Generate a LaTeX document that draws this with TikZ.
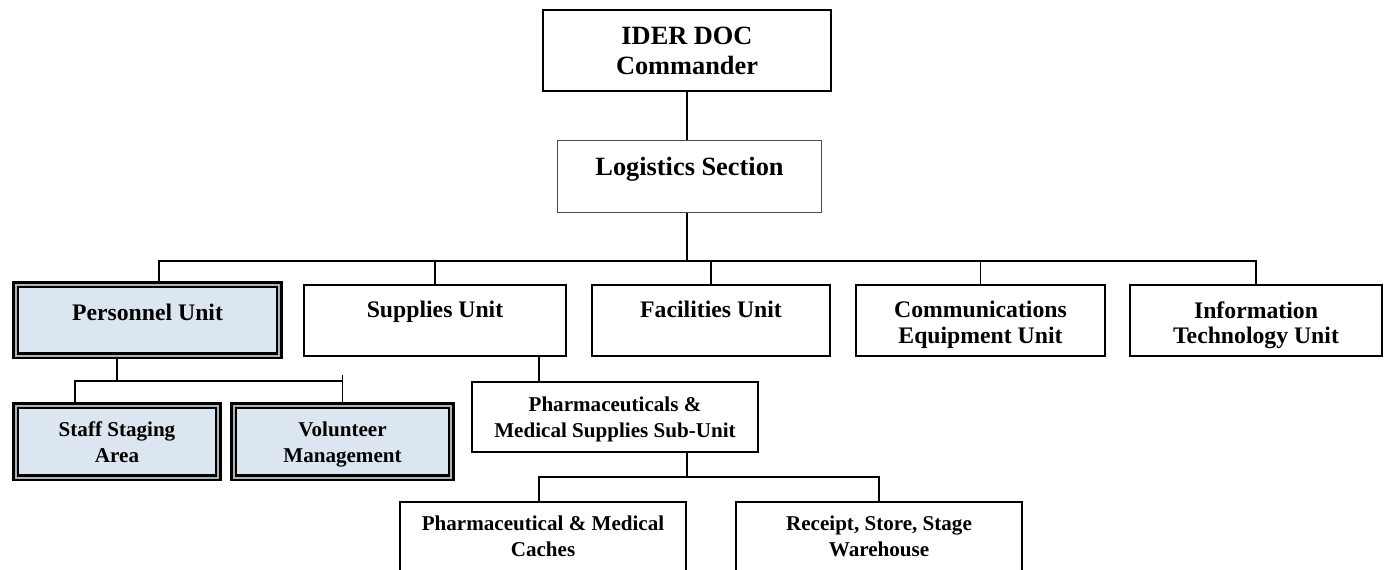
\documentclass[tikz,border=0pt]{standalone}
\usepackage{fontspec}
\setmainfont{Liberation Serif}
\usetikzlibrary{positioning}

\definecolor{unitblue}{RGB}{220,230,241}

\begin{document}
\begin{tikzpicture}[x=0.02cm, y=-0.02cm,
        box/.style={rectangle, draw, fill=white, line width=1.1pt, inner sep=0pt},
        thinbox/.style={box, line width=0.6pt, draw=black!70},
        dblbox/.style={box, fill=unitblue, line width=0.05cm, double=black!30, double distance=0.04cm},
        conn/.style={line width=1.1pt},
        bigtxt/.style={font=\bfseries\fontsize{15}{17}\selectfont, align=center, inner sep=0pt},
        midtxt/.style={font=\bfseries\fontsize{13.5}{14.7}\selectfont, align=center, inner sep=0pt},
        smalltxt/.style={font=\bfseries\fontsize{12}{14.7}\selectfont, align=center, inner sep=0pt}]
        \useasboundingbox (0,0) rectangle (1387,569);
        \clip (0,0) rectangle (1387,569);

        % top of the chart
        \node[box, minimum width=5.76cm, minimum height=1.62cm] (cmd) at (687,50.5) {};
        \node[bigtxt, below=0.36cm of cmd.north] (cmd-t) {IDER DOC\\Commander};
        \node[thinbox, minimum width=5.28cm, minimum height=1.44cm] (log) at (689.5,176.5) {};
        \node[bigtxt, below=0.33cm of log.north] (log-t) {Logistics Section};

        % units
        \node[dblbox, minimum width=5.28cm, minimum height=1.42cm] (pers) at (147.5,320) {};
        \node[midtxt, below=0.40cm of pers.north] (pers-t) {Personnel Unit};
        \node[box, minimum width=5.24cm, minimum height=1.42cm] (sup) at (435,320.5) {};
        \node[midtxt, below=0.34cm of sup.north] (sup-t) {Supplies Unit};
        \node[box, minimum width=4.76cm, minimum height=1.42cm] (fac) at (711,320.5) {};
        \node[midtxt, below=0.34cm of fac.north] (fac-t) {Facilities Unit};
        \node[box, minimum width=4.98cm, minimum height=1.42cm] (com) at (980.5,320.5) {};
        \node[midtxt, below=0.34cm of com.north] (com-t) {Communications\\Equipment Unit};
        \node[box, minimum width=5.04cm, minimum height=1.42cm] (it) at (1256,320.5) {};
        \node[midtxt, below=0.34cm of it.north] (it-t) {Information\\Technology Unit};

        % personnel sub-units
        \node[dblbox, minimum width=4.06cm, minimum height=1.44cm] (staff) at (117,441.5) {};
        \node[smalltxt, below=0.34cm of staff.north] (staff-t) {Staff Staging\\Area};
        \node[dblbox, minimum width=4.36cm, minimum height=1.44cm] (vol) at (342.5,441.5) {};
        \node[smalltxt, below=0.34cm of vol.north] (vol-t) {Volunteer\\Management};

        % supplies sub-unit
        \node[box, minimum width=5.72cm, minimum height=1.40cm] (pharm) at (615,417) {};
        \node[smalltxt, below=0.31cm of pharm.north] (pharm-t) {Pharmaceuticals \&\\Medical Supplies Sub-Unit};
        \node[box, minimum width=5.72cm, minimum height=2.36cm] (cache) at (543,561) {};
        \node[smalltxt, below=0.29cm of cache.north] (cache-t) {Pharmaceutical \& Medical\\Caches};
        \node[box, minimum width=5.72cm, minimum height=2.36cm] (rss) at (879,561) {};
        \node[smalltxt, below=0.29cm of rss.north] (rss-t) {Receipt, Store, Stage\\Warehouse};

        % connectors
        \coordinate (bus) at (0,261);
        \coordinate (pbus) at (0,381);
        \coordinate (mbus) at (0,477);
        \draw[conn] (cmd.south) -- (cmd.south |- log.north);
        \draw[conn] (cmd.south |- log.south) -- (cmd.south |- bus);
        \draw[conn] ([xshift=0.23cm]pers.north) -- ([xshift=0.23cm]pers.north |- bus) -- (it.north |- bus) -- (it.north);
        \foreach \u in {sup,fac,com}
            \draw[conn] (\u.north) -- (\u.north |- bus);
        \draw[conn] ([xshift=-0.61cm]pers.south) -- ([xshift=-0.61cm]pers.south |- pbus);
        \draw[conn] ([xshift=-0.84cm]staff.north) -- ([xshift=-0.84cm]staff.north |- pbus) -- (vol.north |- pbus);
        \draw[conn] (vol.north) -- ++(0,-29);
        \draw[conn] ([xshift=-1.52cm]pharm.north) -- ([xshift=-1.52cm]pharm.north |- sup.south);
        \draw[conn] ([xshift=1.44cm]pharm.south) -- ([xshift=1.44cm]pharm.south |- mbus);
        \draw[conn] ([xshift=-0.08cm]cache.north) -- ([xshift=-0.08cm]cache.north |- mbus) -- (rss.north |- mbus) -- (rss.north);
    \end{tikzpicture}
\end{document}
